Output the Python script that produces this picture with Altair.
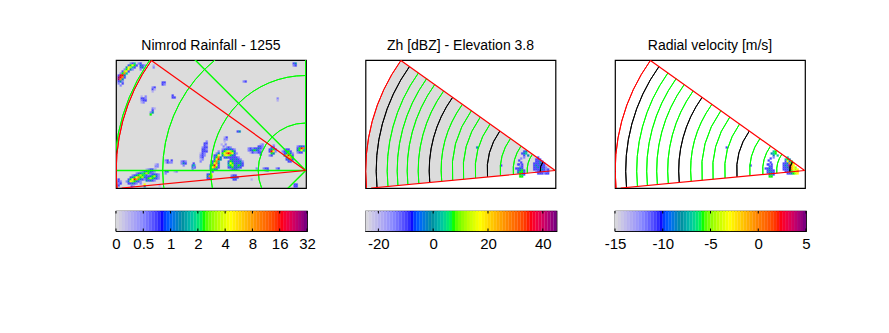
import math
import altair as alt
import pandas as pd

FONT = "Liberation Sans"
GREY = "#dcdcdc"
TITLES = ["Nimrod Rainfall - 1255", "Zh [dBZ] - Elevation 3.8", "Radial velocity [m/s]"]

# colour map stops: position on the bar -> colour
CMAP_POS = [0, 0.14, 0.245, 0.35, 0.46, 0.60, 0.75, 0.86, 1.0]
CMAP_COL = ["#dcdcdc", "#8c8cff", "#0000ff", "#0090a0", "#00ff00", "#ffff00", "#ff8000", "#ff0000", "#700080"]
# letter used in the echo tables -> position on the colour bar
LEVELS = dict(a=0.08, b=0.15, c=0.21, d=0.33, e=0.40, f=0.46, g=0.53, h=0.60, i=0.74, j=0.86, k=0.98)

RAIN_TICKS = [0, 1, 2, 3, 4, 5, 6, 7]
RAIN_LABELS = ["0", "0.5", "1", "2", "4", "8", "16", "32"]
ZH_TICKS = [-20, 0, 20, 40]
VEL_TICKS = [-15, -10, -5, 0, 5]

# map grid (km from radar)
MAP_RINGS = [47.5, 95, 143, 191]
SECTOR_EDGE_R = 189.5
SECTOR_LOW_DEG = -5.4
SECTOR_HIGH_DEG = 35.5
GATE_RINGS_GREEN = [28, 42, 55, 80, 92, 103, 114, 137, 148, 158, 168]
GATE_RINGS_BLACK = [15, 68, 126, 179]

# echoes: (left x, top y, rows of 2-km cells, one letter per cell, '.' = nothing)
RAIN = [
 (-188, 108, ["......bce.bc..", ".....cfhfc.dcb", "....dhgec..cd.", "...bfhdb...b..", "..cghc........", ".bfie.........",
              "cjjd..........", "kjic..........", "kid...........", "cdb...........", "b.c...........", ".b............"]),
 (-153, 106, ["a", "b"]), (-144, 89, ["cc", "cb"]), (-134, 76, ["c.", "cc"]), (-154, 84, ["bc", "ca", "a."]),
 (-165, 75, ["a.b", "ccb", "bcc", "ab."]), (-156, 63, [".ba", ".c.", "bd.", "f.."]),
 (-13, 108, ["cd", "bc"]), (-63, 90, ["bc"]), (-29, 73, ["b", "a"]), (-69, 40, ["cd"]), (-82, 34, ["ac", "bb", "a."]),
 (-106, 30, ["...b.", "..cc.", "..cb.", ".bcc.", ".ccb.", ".ccc.", "acb..", "bcb..", "bc...", "ab...", "b...."]),
 (-85, 27, ["a.b", ".b."]),
 (-96, 24, ["........bcb...", "......bcdcdcb.", "....b.cfghgfc.", "...bd.fhijihdb", "..cdh.dghgfdc.", "..cfid.cdcc...",
            "..dhjd........", ".cfie.........", ".dhid.........", "cfjhc.........", "dhifc.........", "cfdc..........", ".c............"]),
 (-78, 14, ["..cccb..", ".cdcdcb.", "cfdcccdb", "dhfcdcdc", "efgdcfdc", "cdfcddc.", ".bcdcb.."]),
 (-58, 27, ["......ab.", ".....ccb.", "bcbccdcb.", "bcdfdcb..", ".acbbcc..", "......c.."]),
 (-37, 26, ["..b.", ".cc.", "cdfc", "cjhb", ".fd.", "bc.."]),
 (-24, 22, [".bcc..", "bcdfc.", ".cdgdb", ".dgjhc", "..dhif", "..cdic", "...cc."]),
 (-9, 25, ["bcdc.", "cfjic", "dfhec", "bcc.."]),
 (-114, 6, ["cb", "dc", "b."]),
 (-75, -4, ["bcc.", "cddc", ".cc."]), (-99, -3, ["cdh", "dig", "cc."]),
 (-43, 3, ["bcc.", ".bc."]),
 (-125, 10, ["bcb", "bdc", ".b."]), (-113, 8, ["c", "e", "b"]), (-141, 11, ["bc.c", "acbb"]), (-151, 7, ["ab", "bb", "a."]),
 (-141, 0, ["cc", "b."]), (-132, 0, ["ab."]), (-12, -13, ["cc", "cc"]), (-50, 3, ["b"]), (-30, 3, ["bc"]), (-55, -8, ["a"]),
 (-180, 2, ["..........abcca", ".......abcdfdcb", ".....bcdefgfcb.", "...bcdfgfecab..", "..cdfhifgdcb...", ".cfhjifdcb.....", "bdhgfdcb.......", ".ccdcb.b......."]),
 (-160, -3, ["..bcdcb", ".cdfgdb", "cfgfdcb", "dcdcb.."]),
 (-188, -8, ["c.", "cb", "bc", "c."]), (-175, -15, ["cb"]), (-162, -13, ["h", "d"]), (-147, -14, ["a"]),
]
ZH = [
 (-36, 20, ["..cd.", ".cde.", "..c.d", "..b.."]), (-39, 13, ["..b", ".c.", "..c", ".c."]),
 (-40, 7, [".c.c.", "..bc.", "ccdc.", ".cdfc", ".dffc", "..fec", "..ff."]),
 (-22, 14, ["..c.....", ".ccc....", ".ccdc...", "cccdcc..", "cdcccc..", "ccdcccb.", "ccccdcbc", ".bccccbc", "..cccbcc"]),
 (-79, 24, ["d"]), (-55, 6, ["c"]),
]
VEL = [
 (-36, 20, ["..ef.", ".def.", "..d.e", "..b.."]), (-39, 13, ["..c", ".c.", "..c", ".c."]),
 (-40, 7, [".c.c.", "..cc.", "ccdc.", ".cdcc", ".cddc", "..dec", "..ff."]),
 (-22, 14, ["..e.....", ".efd....", ".chdf...", "ccdifh..", "cdckih..", "ccdkihg.", "cccdihgh", ".ccdfghi", "..ccdfgh"]),
 (-79, 24, ["c"]), (-55, 6, ["c"]),
]

SIZE_W, SIZE_H = 190, 128
X_DOM = [-189.7, 0.3]
Y_DOM = [-17.5, 110.5]
xs = alt.Scale(domain=X_DOM, nice=False, zero=False)
ys = alt.Scale(domain=Y_DOM, nice=False, zero=False)
color_scale = alt.Scale(domain=CMAP_POS, range=CMAP_COL, clamp=True)
FRAME = alt.ViewConfig(stroke="black", strokeWidth=1.2)


def cells(blobs):
    rows = []
    for x0, y0, table in blobs:
        for r, line in enumerate(table):
            for c, ch in enumerate(line):
                if ch != ".":
                    rows.append(dict(x=x0 + 2 * c, x2=x0 + 2 * c + 2, y=y0 - 2 * r, y2=y0 - 2 * r - 2, v=LEVELS[ch]))
    return pd.DataFrame(rows)


def echoes(blobs):
    return alt.Chart(cells(blobs)).mark_rect(clip=True, strokeWidth=0.2).encode(
        x=alt.X("x:Q", scale=xs, axis=None), x2="x2:Q",
        y=alt.Y("y:Q", scale=ys, axis=None), y2="y2:Q",
        color=alt.Color("v:Q", scale=color_scale, legend=None),
        stroke=alt.Stroke("v:Q", scale=color_scale, legend=None),
    )


def arcs(radii, deg0, deg1, colour, width=1.0):
    d = pd.DataFrame(dict(x=0, y=0, r=radii, t1=math.radians(270 + deg0), t2=math.radians(270 + deg1)))
    return alt.Chart(d).mark_arc(filled=False, stroke=colour, strokeWidth=width, clip=True).encode(
        x=alt.X("x:Q", scale=xs, axis=None), y=alt.Y("y:Q", scale=ys, axis=None),
        theta=alt.Theta("t1:Q", scale=None, stack=None), theta2="t2:Q",
        radius=alt.Radius("r:Q", scale=None), radius2="r:Q",
    )


def sector_fill():
    d = pd.DataFrame(dict(x=[0], y=[0], r=[SECTOR_EDGE_R], t1=[math.radians(270 + SECTOR_LOW_DEG)], t2=[math.radians(270 + SECTOR_HIGH_DEG)]))
    return alt.Chart(d).mark_arc(fill=GREY, clip=True).encode(
        x=alt.X("x:Q", scale=xs, axis=None), y=alt.Y("y:Q", scale=ys, axis=None),
        theta=alt.Theta("t1:Q", scale=None, stack=None), theta2="t2:Q",
        radius=alt.Radius("r:Q", scale=None),
    )


def spokes(ends, colour, width=1.2):
    d = pd.DataFrame(ends, columns=["x", "y"]).assign(x0=0, y0=0)
    return alt.Chart(d).mark_rule(color=colour, strokeWidth=width, clip=True).encode(
        x=alt.X("x0:Q", scale=xs, axis=None), x2="x:Q",
        y=alt.Y("y0:Q", scale=ys, axis=None), y2="y:Q",
    )


def red_edges():
    return spokes([(-154.3, 110), (-184, -17.5)], "#ff0000")


def panel_title(text):
    return alt.TitleParams(text, font=FONT, fontSize=14, fontWeight="normal", color="black", offset=7, anchor="middle")


map_panel = alt.layer(
    echoes(RAIN),
    arcs(MAP_RINGS, 0, 360, "#00ff00"),
    spokes([(-195, 0), (0, 111), (-111, 111), (-18, -18)], "#00ff00", 1.4),
    arcs([SECTOR_EDGE_R], SECTOR_LOW_DEG, SECTOR_HIGH_DEG, "#ff0000"),
    red_edges(),
).properties(width=SIZE_W, height=SIZE_H, title=panel_title(TITLES[0]),
             view=alt.ViewConfig(stroke="black", strokeWidth=1.2, fill=GREY))


def gate_panel(blobs, title):
    layers = [echoes(blobs),
              arcs(GATE_RINGS_GREEN, SECTOR_LOW_DEG, SECTOR_HIGH_DEG, "#00ff00"),
              arcs(GATE_RINGS_BLACK, SECTOR_LOW_DEG, SECTOR_HIGH_DEG, "black"),
              arcs([SECTOR_EDGE_R], SECTOR_LOW_DEG, SECTOR_HIGH_DEG, "#ff0000"),
              red_edges()]
    if title == TITLES[1]:
        layers.insert(0, sector_fill())
    return alt.layer(*layers).properties(width=SIZE_W, height=SIZE_H, title=panel_title(title), view=FRAME)


def colourbar(dmin, dmax, ticks, expr):
    n = 64
    d = pd.DataFrame([dict(a=dmin + (dmax - dmin) * i / n, b=dmin + (dmax - dmin) * (i + 1) / n, v=(i + 0.5) / n) for i in range(n)])
    sc = alt.Scale(domain=[dmin, dmax], nice=False, zero=False)
    ax = alt.Axis(values=ticks, labelExpr=expr, tickSize=0, domain=False, grid=False, title=None,
                  labelFont=FONT, labelFontSize=15, labelColor="black", labelPadding=5,
                  labelOverlap=False, labelFlush=False)
    bar = alt.Chart(d).mark_rect(strokeWidth=0.2).encode(
        x=alt.X("a:Q", scale=sc, axis=ax),
        x2="b:Q",
        color=alt.Color("v:Q", scale=color_scale, legend=None),
        stroke=alt.Stroke("v:Q", scale=color_scale, legend=None),
    )
    t = pd.DataFrame(dict(t=ticks))
    top = alt.Chart(t).mark_rule(color="black", strokeWidth=1).encode(x=alt.X("t:Q", scale=sc, axis=ax), y=alt.value(0), y2=alt.value(2.5))
    low = alt.Chart(t).mark_rule(color="black", strokeWidth=1).encode(x=alt.X("t:Q", scale=sc, axis=ax), y=alt.value(17.5), y2=alt.value(20))
    return alt.layer(bar, top, low).properties(width=191, height=20, view=FRAME)


rain_expr = "[" + ",".join(f"'{s}'" for s in RAIN_LABELS) + "][datum.value]"
plain_expr = "'' + datum.value"

chart = alt.concat(
    map_panel, gate_panel(ZH, TITLES[1]), gate_panel(VEL, TITLES[2]),
    colourbar(0, 7, RAIN_TICKS, rain_expr), colourbar(-24.7, 45, ZH_TICKS, plain_expr), colourbar(-15, 5, VEL_TICKS, plain_expr),
    columns=3, spacing={"row": 23, "column": 58.5},
    bounds="flush",
).properties(background="white", padding={"left": 103, "top": 30, "right": 0, "bottom": 0})

chart.save("out.html", embed_options={"renderer": "svg", "actions": False})
